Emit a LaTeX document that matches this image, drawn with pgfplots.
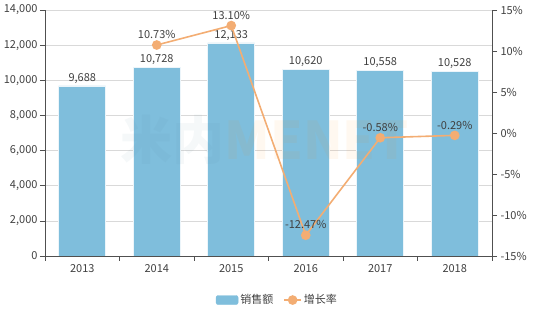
\documentclass[border=0pt]{standalone}
\usepackage{fontspec}
\setmainfont{Noto Sans CJK SC}
\usepackage{pgfplots}
\pgfplotsset{compat=1.18}
\definecolor{barblue}{RGB}{127,190,220}
\definecolor{lineor}{RGB}{243,173,115}
\definecolor{txt}{RGB}{64,64,64}
\definecolor{gridc}{RGB}{217,217,217}
\definecolor{axisc}{RGB}{80,80,80}
\begin{document}
\begin{tikzpicture}
\path[use as bounding box] (-45pt,-56pt) rectangle (510pt,256pt);
\pgfplotsset{
  common/.style={
    scale only axis, width=447pt, height=246pt,
    at={(0pt,0pt)}, anchor=south west,
    xmin=-0.5, xmax=5.5,
    tick align=outside,
    axis line style={-, draw=axisc, line width=0.6pt},
    tick style={draw=axisc, line width=0.6pt},
    major tick length=5pt, minor tick length=5pt,
    tick label style={font=\fontsize{11}{13}\selectfont, text=txt},
    /pgf/number format/assume math mode=true,
  }
}
\begin{axis}[common,
  ymin=0, ymax=14000,
  ytick={0,2000,...,14000},
  ymajorgrids, grid style={gridc, line width=0.6pt},
  axis y line*=left, axis x line*=bottom,
  xtick={0,...,5}, xticklabels={2013,2014,2015,2016,2017,2018},
  major x tick style={draw=none},
  minor xtick={-0.5,0.5,...,5.5},
  /pgf/number format/1000 sep={,},
  y tick label style={/pgf/number format/fixed, xshift=1pt},
  scaled y ticks=false,
]
\addplot[ybar, bar width=47pt, fill=barblue, draw=white!85!barblue, line width=0.5pt,
  nodes near coords={\pgfmathprintnumber[fixed,1000 sep={,},assume math mode=true]{\pgfplotspointmeta}},
  every node near coord/.append style={font=\fontsize{11}{13}\selectfont, text=txt, anchor=south, yshift=-1pt}]
  coordinates {(0,9688)(1,10728)(2,12133)(3,10620)(4,10558)(5,10528)};
\node[opacity=0.06, font=\fontsize{52}{52}\selectfont\bfseries, inner sep=0pt] at (axis cs:2.45,6600)
  {{\color{barblue!70!black}米内}{\color{orange}MENET}};
\end{axis}
\begin{axis}[common,
  ymin=-15, ymax=15,
  ytick={-15,-10,...,15},
  yticklabel={\pgfmathprintnumber{\tick}\%},
  axis y line*=right, axis x line=none,
  legend style={at={(0.52,-0.14)}, anchor=north, legend columns=2, draw=none,
    font=\fontsize{11}{13}\selectfont, text=txt,
    /tikz/every even column/.append style={column sep=8pt}},
]
\addlegendimage{legend image code/.code={\fill[barblue, rounded corners=2pt] (0pt,-4.5pt) rectangle (22pt,4.5pt);}}
\addlegendentry{销售额}
\addplot[lineor, line width=1.6pt, mark=*, mark size=4pt, mark options={fill=lineor, draw=lineor},
  nodes near coords={\pgfmathprintnumber[fixed,precision=2,fixed zerofill,assume math mode=true]{\pgfplotspointmeta}\%},
  every node near coord/.append style={font=\fontsize{11}{13}\selectfont, text=txt, anchor=south, yshift=2pt}]
  coordinates {(1,10.73)(2,13.10)(3,-12.47)(4,-0.58)(5,-0.29)};
\addlegendentry{增长率}
\end{axis}
\end{tikzpicture}
\end{document}
